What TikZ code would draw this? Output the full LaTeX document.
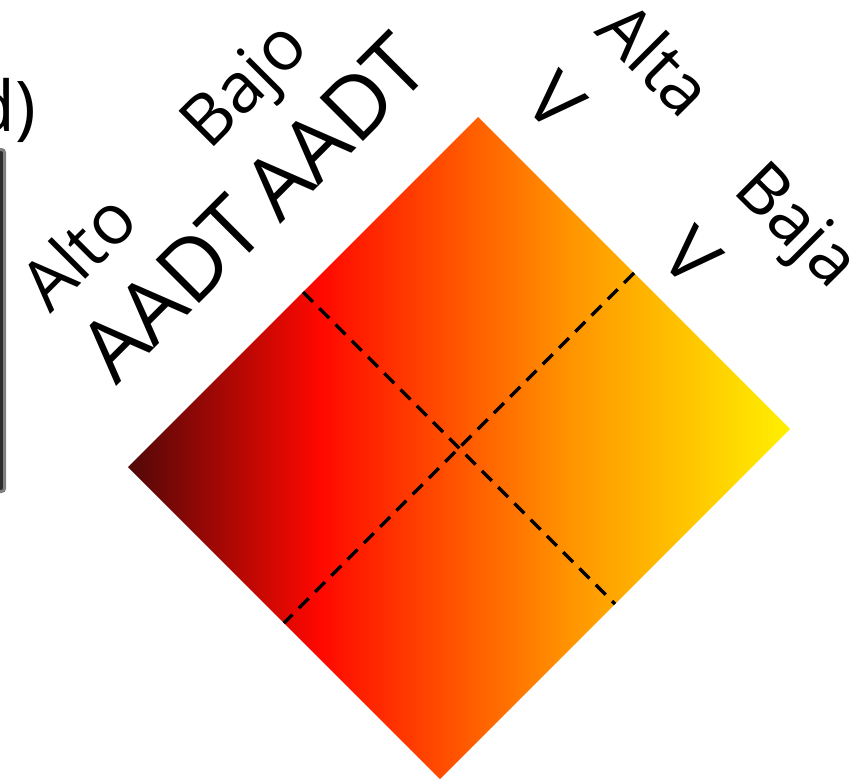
\documentclass[tikz,border=0pt]{standalone}
\usepackage{fontspec}
\setmainfont{Open Sans}
\usepackage{xcolor}
\usepackage{tikz}
\usetikzlibrary{calc}
\definecolor{heatdark}{HTML}{500808}
\definecolor{heatred}{HTML}{FF0800}
\definecolor{heatorange}{HTML}{FF9500}
\definecolor{heatyellow}{HTML}{FFF000}
\definecolor{barfill}{HTML}{2B2E2B}
\definecolor{barline}{HTML}{7F7F7F}
\pgfdeclarehorizontalshading{heatmap}{100bp}{color(0bp)=(heatdark); color(25bp)=(heatdark);
  color(39.5bp)=(heatred); color(58.5bp)=(heatorange); color(75bp)=(heatyellow); color(100bp)=(heatyellow)}
\tikzset{
  small/.style={inner sep=0pt,anchor=base west,font=\fontsize{70}{84}\selectfont},
  big/.style={inner sep=0pt,anchor=base west,font=\fontsize{86}{100}\selectfont},
  vlabel/.style={inner sep=0pt,anchor=base west,font=\fontsize{74}{88}\selectfont},
  quarter/.style={draw=black,line width=3.3pt,dash pattern=on 14pt off 9pt},
  colorbar/.style={draw=barline,fill=barfill,line width=3pt,rounded corners=3pt},
}

\begin{document}
\begin{tikzpicture}[x=1pt,y=-1pt]
\useasboundingbox (0,0) rectangle (862,780);

% cut-off panel on the left
\draw[colorbar] (-20,149.5) rectangle (4.5,491.5);
\node[small,anchor=base east] (panel) at (36,131) {d)};

% diamond
\coordinate (C) at (459,448);
\coordinate (L) at (128,467);
\coordinate (T) at (478,117);
\coordinate (R) at (790,429);
\coordinate (B) at (440,779);
\shade[shading=heatmap] (L) -- (T) -- (R) -- (B) -- cycle;
\draw[quarter] ($(L)!0.5!(T)$) -- ($(B)!0.5!(R)$);
\draw[quarter] ($(T)!0.5!(R)$) -- ($(L)!0.5!(B)$);

% AADT axis
\node[small,rotate=45] (alto) at (50,315) {Alto};
\node[big,rotate=45] (aadtlo) at (116,387) {AADT};
\node[small,rotate=45] (bajo) at (209,152) {Bajo};
\node[big,rotate=45] (aadthi) at (280,225) {AADT};

% V axis
\node[small,rotate=-45] (alta) at (593,32) {Alta};
\node[vlabel,rotate=-45] (valta) at (521,104) {V};
\node[small,rotate=-45] (baja) at (731,191) {Baja};
\node[vlabel,rotate=-45] (vbaja) at (657,259) {V};
\end{tikzpicture}
\end{document}
